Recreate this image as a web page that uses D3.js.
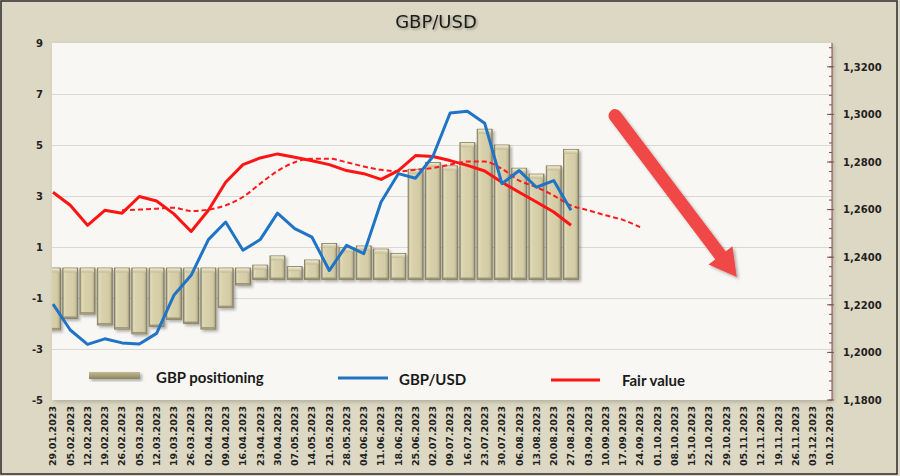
<!DOCTYPE html>
<html><head><meta charset="utf-8">
<script src="https://cdn.jsdelivr.net/npm/d3@7"></script>
<style>body{margin:0;background:#fff}svg{display:block}</style>
</head><body><svg id="c" width="900" height="476"></svg>
<script>
const dates = ["29.01.2023","05.02.2023","12.02.2023","19.02.2023","26.02.2023","05.03.2023","12.03.2023","19.03.2023","26.03.2023","02.04.2023","09.04.2023","16.04.2023","23.04.2023","30.04.2023","07.05.2023","14.05.2023","21.05.2023","28.05.2023","04.06.2023","11.06.2023","18.06.2023","25.06.2023","02.07.2023","09.07.2023","16.07.2023","23.07.2023","30.07.2023","06.08.2023","13.08.2023","20.08.2023","27.08.2023","03.09.2023","10.09.2023","17.09.2023","24.09.2023","01.10.2023","08.10.2023","15.10.2023","22.10.2023","29.10.2023","05.11.2023","12.11.2023","19.11.2023","26.11.2023","03.12.2023","10.12.2023"];
const positioning = [-2.25,-1.80,-1.63,-2.06,-2.22,-2.41,-2.12,-1.84,-2.00,-2.22,-1.38,-0.49,0.29,0.65,0.23,0.49,1.14,0.97,1.04,0.92,0.75,4.05,4.31,4.18,5.09,5.62,5.00,4.09,3.86,4.18,4.83];
const gbpusd = [1.2203,1.2094,1.2034,1.2057,1.2040,1.2035,1.2080,1.2240,1.2324,1.2474,1.2548,1.2429,1.2474,1.2585,1.2520,1.2484,1.2344,1.2450,1.2415,1.2632,1.2751,1.2732,1.2823,1.3006,1.3013,1.2963,1.2709,1.2764,1.2694,1.2722,1.2597];
const fairValue = [1.2673,1.2618,1.2534,1.2597,1.2585,1.2655,1.2636,1.2582,1.2508,1.2597,1.2715,1.2789,1.2817,1.2834,1.2820,1.2805,1.2789,1.2764,1.2751,1.2727,1.2764,1.2827,1.2823,1.2806,1.2786,1.2762,1.2715,1.2673,1.2632,1.2590,1.2534];
const fairTrendStart = 4;
const fairTrend = [1.2597,1.2600,1.2604,1.2608,1.2594,1.2600,1.2618,1.2653,1.2709,1.2762,1.2799,1.2814,1.2814,1.2799,1.2781,1.2767,1.2761,1.2767,1.2775,1.2789,1.2802,1.2802,1.2771,1.2722,1.2694,1.2659,1.2618,1.2597,1.2576,1.2557,1.2526];
const leftTicks = [-5,-3,-1,1,3,5,7,9];
const rightTicks = [1.18,1.20,1.22,1.24,1.26,1.28,1.30,1.32];
const legendLabels = ["GBP positioning","GBP/USD","Fair value"];
const titleText = "GBP/USD";
const arrowFrom = {i:32.55, v:1.2995}, arrowTo = {i:39.6, v:1.2317};

const svg = d3.select("#c");
const W=900,H=476;
const P = {l:52, r:832, t:43, b:400};
const x = d3.scalePoint().domain(dates).range([53,830]);
const xi = d3.scaleLinear().domain([0,dates.length-1]).range([53,830]);
const yL = d3.scaleLinear().domain([-5,9]).range([P.b,P.t]);
const yR = d3.scaleLinear().domain([1.18,1.33]).range([P.b,P.t]);

const defs = svg.append("defs");
const f = defs.append("filter").attr("id","sh").attr("x","-20%").attr("y","-20%").attr("width","150%").attr("height","150%");
f.append("feDropShadow").attr("dx",2).attr("dy",2).attr("stdDeviation",1.4).attr("flood-color","#000").attr("flood-opacity",0.3);
const f2 = defs.append("filter").attr("id","tsh").attr("x","-10%").attr("y","-20%").attr("width","130%").attr("height","160%");
f2.append("feDropShadow").attr("dx",1.5).attr("dy",1.5).attr("stdDeviation",1).attr("flood-color","#000").attr("flood-opacity",0.3);
const f3 = defs.append("filter").attr("id","psh").attr("x","-5%").attr("y","-5%").attr("width","110%").attr("height","110%");
f3.append("feDropShadow").attr("dx",2).attr("dy",2).attr("stdDeviation",2).attr("flood-color","#000").attr("flood-opacity",0.2);

const g1 = defs.append("linearGradient").attr("id","barG").attr("x1",0).attr("x2",1).attr("y1",0).attr("y2",0);
[[0,"#9a9374"],[0.12,"#e3dcb8"],[0.25,"#d9d2ad"],[0.75,"#d3cca6"],[0.88,"#c4bd97"],[1,"#8a8366"]].forEach(s=>g1.append("stop").attr("offset",s[0]).attr("stop-color",s[1]));
const g2 = defs.append("linearGradient").attr("id","capG").attr("x1",0).attr("x2",0).attr("y1",0).attr("y2",1);
[[0,"#f2ecd0"],[1,"#c2bb95"]].forEach(s=>g2.append("stop").attr("offset",s[0]).attr("stop-color",s[1]));
const g3 = defs.append("linearGradient").attr("id","legG").attr("x1",0).attr("x2",0).attr("y1",0).attr("y2",1);
[[0,"#c1ba92"],[0.5,"#a7a07a"],[1,"#8c8561"]].forEach(s=>g3.append("stop").attr("offset",s[0]).attr("stop-color",s[1]));
defs.append("clipPath").attr("id","clip").append("rect").attr("x",P.l).attr("y",P.t).attr("width",P.r-P.l).attr("height",P.b-P.t);

// background
svg.append("rect").attr("x",0).attr("y",0).attr("width",W).attr("height",H).attr("fill","#dcd8c3");
svg.append("rect").attr("x",1).attr("y",1).attr("width",896).attr("height",473).attr("fill","none").attr("stroke","#2b2b2b").attr("stroke-width",1.5);
svg.append("rect").attr("x",P.l).attr("y",P.t).attr("width",P.r-P.l).attr("height",P.b-P.t).attr("fill","#f8f7f3").attr("filter","url(#psh)");

// title
svg.append("text").attr("x",436).attr("y",28).attr("text-anchor","middle").attr("font-family","DejaVu Sans").attr("font-size",18).attr("fill","#1a1a1a").attr("filter","url(#tsh)").text(titleText);

// grid
svg.append("g").selectAll("line").data(leftTicks.filter(t=>t>-5&&t<9)).join("line")
 .attr("x1",P.l).attr("x2",P.r).attr("y1",d=>Math.round(yL(d))+0.5).attr("y2",d=>Math.round(yL(d))+0.5)
 .attr("stroke","#d9d8d4").attr("stroke-width",1);

// left axis labels
const lab = svg.append("g").attr("font-family","DejaVu Sans").attr("font-weight","bold").attr("font-size",10).attr("fill","#222");
lab.selectAll("text.l").data(leftTicks).join("text").attr("class","l")
 .attr("x",43).attr("y",d=>yL(d)).attr("dy","0.35em").attr("text-anchor","end").text(d=>d);
// right axis
const ra = svg.append("g").attr("transform",`translate(${P.r},0)`);
ra.call(d3.axisRight(yR).tickValues(rightTicks).tickSize(0).tickFormat(d=>d3.format(".4f")(d).replace(".",",")))
 .call(g=>g.select(".domain").remove())
 .call(g=>g.selectAll("text").attr("x",11).attr("font-family","DejaVu Sans").attr("font-weight","bold").attr("font-size",10).attr("fill","#222"));
ra.append("line").attr("x1",0).attr("x2",0).attr("y1",P.t).attr("y2",P.b).attr("stroke","#8a4a4a").attr("stroke-width",1);
const minor = d3.range(0,38).map(k=>1.18+k*0.004);
ra.selectAll("line.mt").data(minor).join("line").attr("class","mt")
 .attr("x1",-3).attr("x2",0).attr("y1",d=>yR(d)).attr("y2",d=>yR(d)).attr("stroke","#8a4a4a").attr("stroke-width",1);
ra.selectAll("line.Mt").data(rightTicks).join("line").attr("class","Mt")
 .attr("x1",-5).attr("x2",2).attr("y1",d=>yR(d)).attr("y2",d=>yR(d)).attr("stroke","#8a4a4a").attr("stroke-width",1);

// x labels
svg.append("g").attr("font-family","DejaVu Sans").attr("font-weight","bold").attr("font-size",9.5).attr("fill","#222")
 .selectAll("text").data(dates).join("text")
 .attr("transform",d=>`translate(${x(d)},406) rotate(-90)`).attr("dy","0.35em").attr("text-anchor","end").text(d=>d);

// bars
const plot = svg.append("g").attr("clip-path","url(#clip)");
const bw = 15;
const bars = plot.append("g").selectAll("g").data(positioning.map((v,i)=>({v,d:dates[i]}))).join("g").attr("filter","url(#sh)");
bars.each(function(p){
  const gg = d3.select(this);
  const top = p.v>=0 ? yL(p.v) : yL(0)-4.5;
  const bot = p.v>=0 ? yL(0)+7 : yL(p.v);
  const x0 = x(p.d)-bw/2;
  gg.append("rect").attr("x",x0).attr("y",top).attr("width",bw).attr("height",bot-top).attr("fill","url(#barG)").attr("stroke","#7f785b").attr("stroke-width",0.8);
  gg.append("rect").attr("x",x0+1).attr("y",top+0.5).attr("width",bw-2).attr("height",4).attr("fill","url(#capG)");
  gg.append("rect").attr("x",x0+0.5).attr("y",bot-2).attr("width",bw-1).attr("height",1.6).attr("fill","#9d9676");
});

// lines
const lineR = d3.line().x((d,i)=>xi(d.i)).y(d=>yR(d.v));
plot.append("path").datum(fairTrend.map((v,k)=>({i:k+fairTrendStart,v})))
 .attr("d",d3.line().x(d=>xi(d.i)).y(d=>yR(d.v)).curve(d3.curveMonotoneX))
 .attr("fill","none").attr("stroke","#ff1a1a").attr("stroke-width",2).attr("stroke-dasharray","5,3");
plot.append("path").datum(fairValue.map((v,i)=>({i,v}))).attr("d",lineR)
 .attr("fill","none").attr("stroke","#ff1414").attr("stroke-width",3).attr("stroke-linejoin","round");
plot.append("path").datum(gbpusd.map((v,i)=>({i,v}))).attr("d",lineR)
 .attr("fill","none").attr("stroke","#1f74c6").attr("stroke-width",3).attr("stroke-linejoin","round");

// arrow
(function(){
  const sx=xi(arrowFrom.i), sy=yR(arrowFrom.v), tx=xi(arrowTo.i), ty=yR(arrowTo.v);
  const dx=tx-sx, dy=ty-sy, L=Math.hypot(dx,dy), ux=dx/L, uy=dy/L, px=-uy, py=ux;
  const hl=27, hw=15;
  const bx=tx-ux*hl, by=ty-uy*hl;
  const ag = svg.append("g").attr("filter","url(#sh)");
  ag.append("line").attr("x1",sx).attr("y1",sy).attr("x2",bx+ux*2).attr("y2",by+uy*2)
    .attr("stroke","#f04646").attr("stroke-width",13).attr("stroke-linecap","round");
  ag.append("path").attr("d",`M${tx},${ty}L${bx+px*hw},${by+py*hw}L${bx-px*hw},${by-py*hw}Z`).attr("fill","#f04646");
})();

// legend
const lg = svg.append("g").attr("font-family","Lato").attr("font-weight","bold").attr("font-size",15).attr("fill","#1a1a1a");
lg.append("rect").attr("x",89).attr("y",372).attr("width",51).attr("height",7).attr("fill","url(#legG)").attr("filter","url(#sh)");
lg.append("text").attr("x",156).attr("y",383).text(legendLabels[0]);
lg.append("line").attr("x1",338).attr("x2",388).attr("y1",378).attr("y2",378).attr("stroke","#1f74c6").attr("stroke-width",3);
lg.append("text").attr("x",399).attr("y",385).text(legendLabels[1]);
lg.append("line").attr("x1",551).attr("x2",600).attr("y1",380).attr("y2",380).attr("stroke","#ff1414").attr("stroke-width",3);
lg.append("text").attr("x",622).attr("y",386).text(legendLabels[2]);
</script></body></html>
